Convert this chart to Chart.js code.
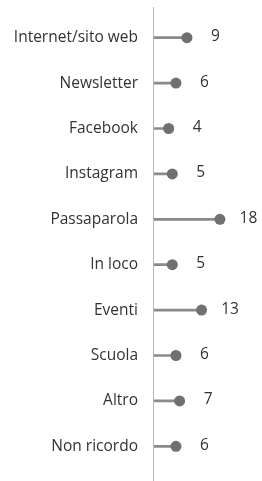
<!DOCTYPE html>
<html>
<head>
<meta charset="utf-8">
<script src="https://cdn.jsdelivr.net/npm/chart.js@4.4.1/dist/chart.umd.min.js"></script>
<style>
  html, body { margin: 0; padding: 0; background: #fff; }
  #wrap { position: relative; width: 262px; height: 481px; }
</style>
</head>
<body>
<div id="wrap"><canvas id="lollipop"></canvas></div>
<script>
// Canali attraverso cui si è venuti a conoscenza
const categories = ['Internet/sito web', 'Newsletter', 'Facebook', 'Instagram', 'Passaparola',
  'In loco', 'Eventi', 'Scuola', 'Altro', 'Non ricordo'];
const counts = [9, 6, 4, 5, 18, 5, 13, 6, 7, 6];
const xMax = 28;

const stemColor = '#8a8a8a';
const dotColor = '#707070';
const textColor = '#333333';

// draws the value next to each dot, plus the long vertical axis line
const lollipopExtras = {
    id: 'lollipopExtras',
    beforeDatasetsDraw(chart) {
        const ctx = chart.ctx;
        const x0 = chart.scales.x.getPixelForValue(0);
        ctx.save();
        ctx.strokeStyle = '#b8b8b8';
        ctx.lineWidth = 1;
        ctx.beginPath();
        ctx.moveTo(x0 - 0.5, 7);
        ctx.lineTo(x0 - 0.5, chart.height);
        ctx.stroke();
        ctx.restore();
    },
    afterDatasetsDraw(chart) {
        const ctx = chart.ctx;
        const meta = chart.getDatasetMeta(1);
        ctx.save();
        ctx.fillStyle = textColor;
        ctx.font = '15.5px "Open Sans", sans-serif';
        ctx.textAlign = 'center';
        ctx.textBaseline = 'middle';
        meta.data.forEach((pt, i) => {
            ctx.fillText(String(counts[i]), pt.x + 28.5, pt.y - 1);
        });
        ctx.restore();
    }
};

new Chart(document.getElementById('lollipop'), {
    type: 'bar',
    data: {
        labels: categories,
        datasets: [
            {
                type: 'bar',
                data: counts,
                backgroundColor: stemColor,
                barThickness: 2,
                order: 2
            },
            {
                type: 'line',
                data: counts,
                showLine: false,
                pointRadius: 5.5,
                pointHoverRadius: 5.5,
                pointBackgroundColor: dotColor,
                pointBorderWidth: 0,
                order: 1
            }
        ]
    },
    options: {
        indexAxis: 'y',
        responsive: true,
        maintainAspectRatio: false,
        animation: false,
        layout: { padding: { top: 15, bottom: 12, right: 2, left: 0 } },
        plugins: {
            legend: { display: false },
            tooltip: { enabled: false }
        },
        scales: {
            x: {
                display: false,
                min: 0,
                max: xMax
            },
            y: {
                grid: { display: false, drawTicks: false },
                border: { display: false },
                afterFit(scale) {
                    scale.width = 154;
                    scale.paddingTop = 0;
                    scale.paddingBottom = 0;
                },
                ticks: {
                    color: textColor,
                    padding: 16,
                    font: { family: '"Open Sans", sans-serif', size: 15.5 }
                }
            }
        }
    },
    plugins: [lollipopExtras]
});
</script>
</body>
</html>
